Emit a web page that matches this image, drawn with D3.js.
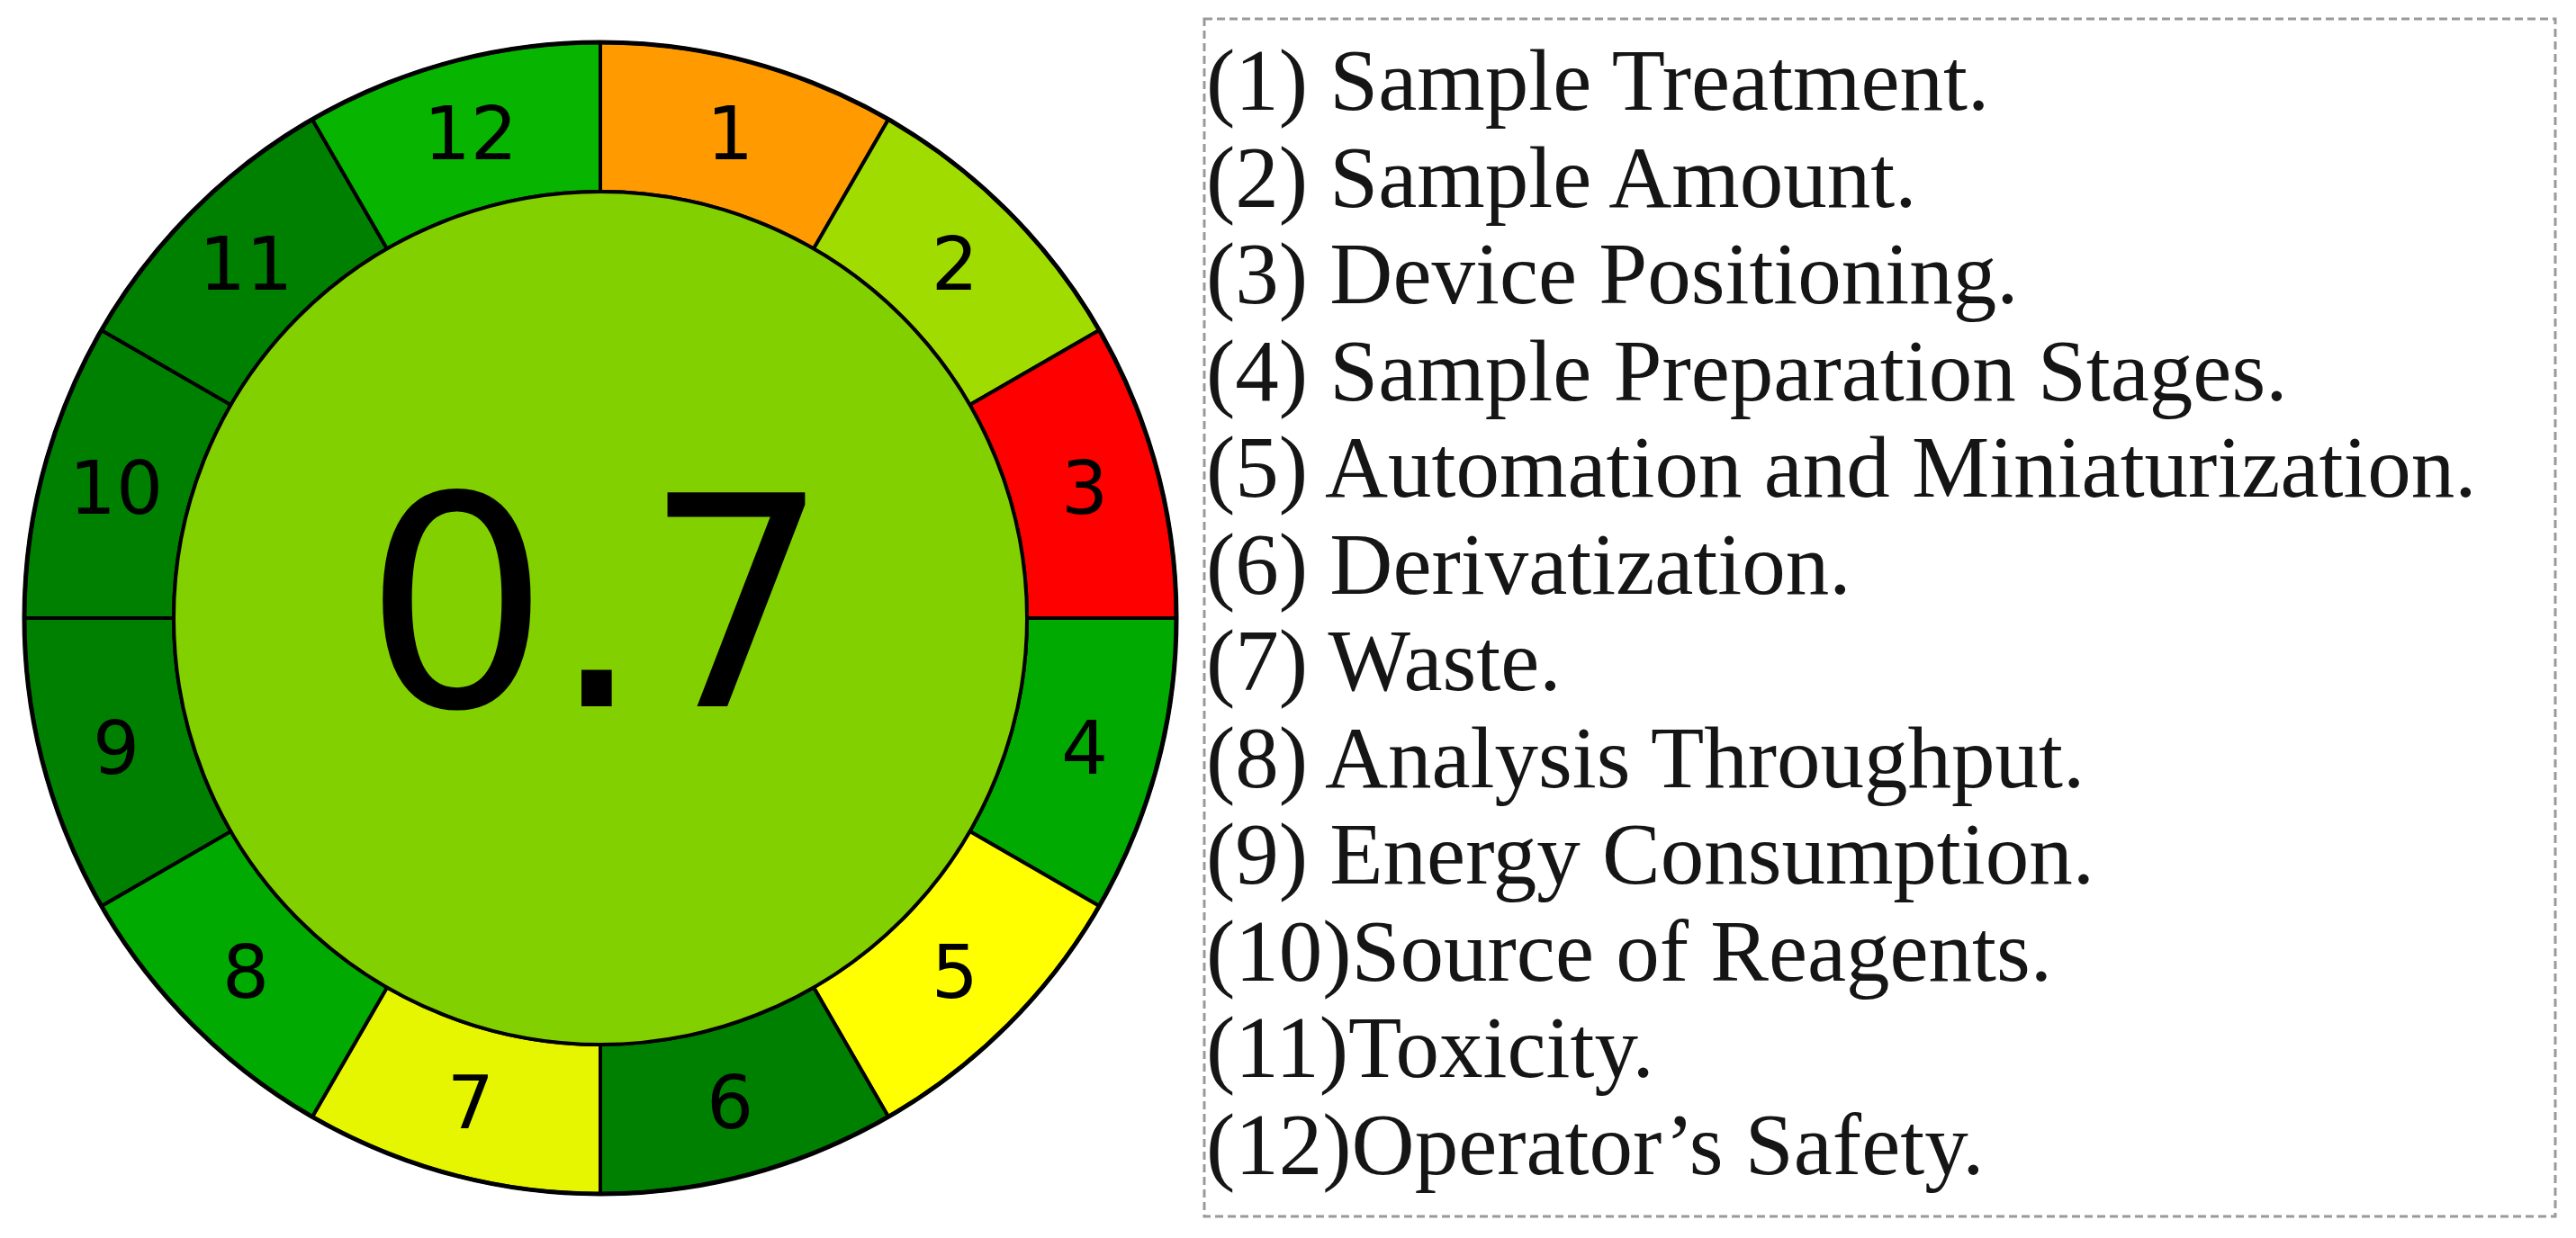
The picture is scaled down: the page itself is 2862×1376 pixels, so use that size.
<!DOCTYPE html>
<html>
<head>
<meta charset="utf-8">
<script src="https://cdn.jsdelivr.net/npm/d3@7"></script>
<style>
  html, body { margin: 0; padding: 0; background: #fff; }
</style>
</head>
<body>
<svg id="chart" width="2862" height="1376"></svg>
<script>
// segment numbers, going clockwise from the top
const segments = ["1", "2", "3", "4", "5", "6", "7", "8", "9", "10", "11", "12"];
// colour of each segment
const segmentColors = ["#ff9b00", "#a0dc00", "#ff0000", "#00aa00", "#ffff00", "#008000",
                       "#e6f600", "#00aa00", "#008000", "#008000", "#008000", "#07b400"];
const overallScore = "0.7";
const centerColor = "#82d000";
// legend lines
const criteria = [
  "(1) Sample Treatment.",
  "(2) Sample Amount.",
  "(3) Device Positioning.",
  "(4) Sample Preparation Stages.",
  "(5) Automation and Miniaturization.",
  "(6) Derivatization.",
  "(7) Waste.",
  "(8) Analysis Throughput.",
  "(9) Energy Consumption.",
  "(10)Source of Reagents.",
  "(11)Toxicity.",
  "(12)Operator’s Safety."
];

const svg = d3.select("#chart");

// the wheel
const cx = 667, cy = 687;
const rOuter = 640, rInner = 474;

const g = svg.append("g")
  .attr("transform", `translate(${cx},${cy})`);

const pie = d3.pie().value(1).sort(null);
const arcs = pie(segments);

const arc = d3.arc()
  .innerRadius(rInner)
  .outerRadius(rOuter);

g.selectAll(".seg")
  .data(arcs)
  .enter().append("path")
    .attr("class", "seg")
    .attr("d", arc)
    .attr("fill", (d, i) => segmentColors[i])
    .attr("stroke", "#000")
    .attr("stroke-width", 4)
    .attr("stroke-linejoin", "miter");

// outer rim is a bit heavier than the dividers
g.append("circle")
  .attr("r", rOuter)
  .attr("fill", "none")
  .attr("stroke", "#000")
  .attr("stroke-width", 5);

// labels sit in the middle of each ring segment
const labelArc = d3.arc()
  .innerRadius((rInner + rOuter) / 2)
  .outerRadius((rInner + rOuter) / 2);

g.selectAll(".seglabel")
  .data(arcs)
  .enter().append("text")
    .attr("class", "seglabel")
    .attr("transform", d => `translate(${labelArc.centroid(d)})`)
    .attr("text-anchor", "middle")
    .attr("dominant-baseline", "central")
    .style("font-family", "DejaVu Sans")
    .style("font-size", "82px")
    .style("fill", "#000")
    .text(d => d.data);

// centre disc with the overall score
g.append("circle")
  .attr("r", rInner)
  .attr("fill", centerColor)
  .attr("stroke", "#000")
  .attr("stroke-width", 4);

g.append("text")
  .attr("x", -4)
  .attr("y", 98)
  .attr("text-anchor", "middle")
  .style("font-family", "DejaVu Sans")
  .style("font-size", "326px")
  .style("fill", "#000")
  .text(overallScore);

// legend box
const box = {x: 1338, y: 21, w: 1501, h: 1331};

svg.append("rect")
  .attr("x", box.x)
  .attr("y", box.y)
  .attr("width", box.w)
  .attr("height", box.h)
  .attr("fill", "none")
  .attr("stroke", "#9a9a9a")
  .attr("stroke-width", 3)
  .attr("stroke-dasharray", "9,5");

const yLine = d3.scalePoint()
  .domain(criteria)
  .range([122, 1305]);

svg.selectAll(".crit")
  .data(criteria)
  .enter().append("text")
    .attr("class", "crit")
    .attr("x", 1340)
    .attr("y", d => yLine(d))
    .style("font-family", "Liberation Serif")
    .style("font-size", "97px")
    .style("fill", "#151515")
    .text(d => d);
</script>
</body>
</html>
